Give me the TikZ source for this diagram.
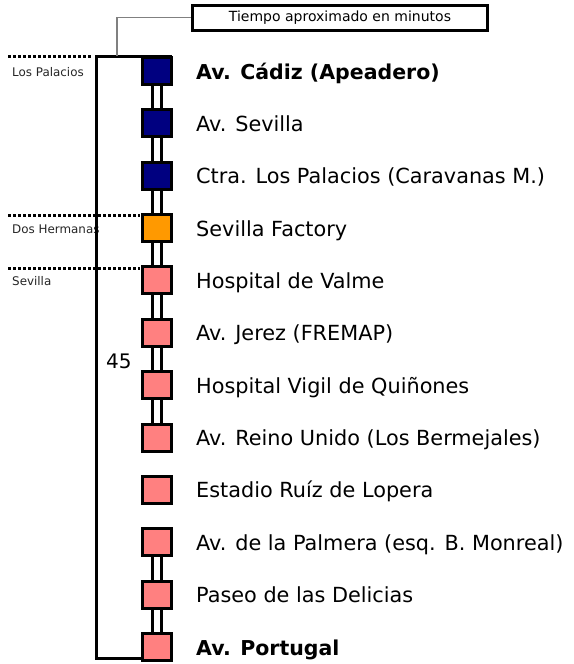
\documentclass[tikz,border=0pt]{standalone}
\usepackage{fontspec}
\setmainfont{DejaVu Sans}
\definecolor{navyst}{RGB}{0,0,128}
\definecolor{orangest}{RGB}{255,153,0}
\definecolor{salmonst}{RGB}{255,128,128}
\tikzset{
  stop/.style={draw=black, line width=3pt, minimum width=29pt, minimum height=27pt, inner sep=0pt, outer sep=0pt},
  stname/.style={anchor=base west, inner sep=0pt, font=\fontsize{20.8}{24}\selectfont},
  zonelabel/.style={anchor=base west, inner sep=0pt, font=\fontsize{11.9}{14}\selectfont, text=black!85},
  dotline/.style={line width=3pt, dash pattern=on 3pt off 2pt},
  rail/.style={line width=3pt},
  bracket/.style={line width=3pt, line join=miter},
}
\begin{document}
\begin{tikzpicture}[x=1pt,y=-1pt]
\useasboundingbox[fill=white] (0,0) rectangle (573,664);
% zone labels (drawn first so the bracket covers them)
\node[zonelabel] (lpal) at (12,76) {Los Palacios};
\node[zonelabel] (ldos) at (12,233) {Dos Hermanas};
\node[zonelabel] (lsev) at (12,285) {Sevilla};
% dotted zone lines
\coordinate (d1a) at (8,56);  \coordinate (d1b) at (92,56);
\coordinate (d2a) at (8,215); \coordinate (d2b) at (140,215);
\coordinate (d3a) at (8,268); \coordinate (d3b) at (140,268);
\draw[dotline] (d1a) -- (d1b);
\draw[dotline] (d2a) -- (d2b);
\draw[dotline] (d3a) -- (d3b);
% stops
\foreach \i/\c in {0/navyst,1/navyst,2/navyst,3/orangest,4/salmonst,5/salmonst,6/salmonst,7/salmonst,8/salmonst,9/salmonst,10/salmonst,11/salmonst}{
  \node[stop, fill=\c] (s\i) at (157, 71+52.36*\i) {};
}
% rails
\foreach \i/\j in {0/1,1/2,2/3,3/4,4/5,5/6,6/7,9/10,10/11}{
  \draw[rail] ([xshift=-4.5pt]s\i.south) -- ([xshift=-4.5pt]s\j.north);
  \draw[rail] ([xshift=4.5pt]s\i.south) -- ([xshift=4.5pt]s\j.north);
}
% bracket
\coordinate (tl) at (96,56);
\coordinate (bl) at (96,658);
\draw[bracket] (tl -| s0.east) -- (tl) -- (bl) -- (bl -| s11.west);
% time box
\node[draw, line width=3pt, minimum width=295pt, minimum height=25pt, inner sep=0pt,
      font=\fontsize{14}{16}\selectfont] (tbox) at (340,17.5) {Tiempo aproximado en minutos};
\coordinate (gk) at (117,56);
\draw[gray, line width=1.5pt] (tbox.west) -| (gk);
% minutes
\node[anchor=base west, inner sep=0pt, font=\fontsize{20}{24}\selectfont] (min) at (106,368) {45};
% station names
\node[stname, font=\fontsize{20.5}{24}\selectfont\bfseries] (n0) at (196,79) {Av. Cádiz (Apeadero)};
\node[stname] (n1) at (196,131.4) {Av. Sevilla};
\node[stname] (n2) at (196,183.7) {Ctra. Los Palacios (Caravanas M.)};
\node[stname] (n3) at (196,236.1) {Sevilla Factory};
\node[stname] (n4) at (196,288.4) {Hospital de Valme};
\node[stname] (n5) at (196,340.8) {Av. Jerez (FREMAP)};
\node[stname] (n6) at (196,393.2) {Hospital Vigil de Quiñones};
\node[stname] (n7) at (196,445.5) {Av. Reino Unido (Los Bermejales)};
\node[stname] (n8) at (196,497.9) {Estadio Ruíz de Lopera};
\node[stname] (n9) at (196,550.2) {Av. de la Palmera (esq. B. Monreal)};
\node[stname] (n10) at (196,602.6) {Paseo de las Delicias};
\node[stname, font=\fontsize{20.5}{24}\selectfont\bfseries] (n11) at (196,655) {Av. Portugal};
\end{tikzpicture}
\end{document}
